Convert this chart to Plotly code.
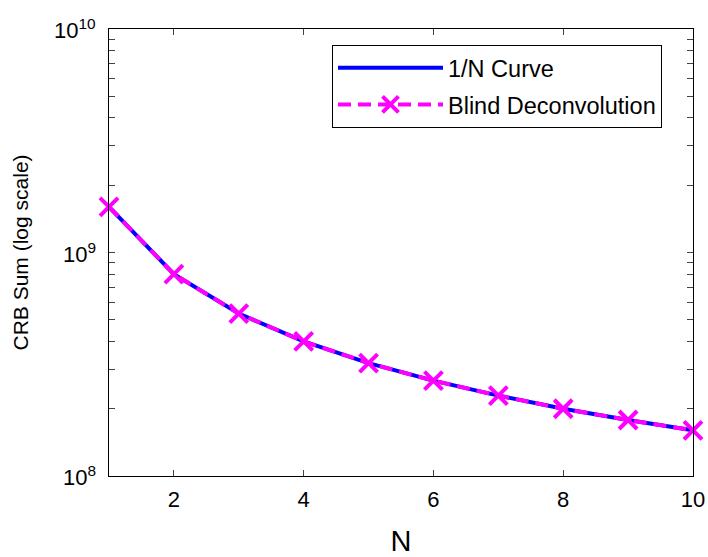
import math
import plotly.graph_objects as go

N = [1, 2, 3, 4, 5, 6, 7, 8, 9, 10]
crb_1overN = [1.6e9, 8.0e8, 5.33e8, 4.0e8, 3.2e8, 2.67e8, 2.29e8, 2.0e8, 1.78e8, 1.6e8]
crb_blind = [1.6e9, 8.0e8, 5.33e8, 4.0e8, 3.2e8, 2.67e8, 2.29e8, 2.0e8, 1.78e8, 1.6e8]

x_ticks = [2, 4, 6, 8, 10]
y_major = [1e8, 1e9, 1e10]
y_major_text = ["10<sup>8</sup>", "10<sup>9</sup>", "10<sup>10</sup>"]
y_minor = [m * 10 ** e for e in (8, 9) for m in range(2, 10)]

FONT = "Arial, Liberation Sans, sans-serif"
PLOT_W = 708 - 109 - 15

fig = go.Figure()
fig.add_trace(go.Scatter(
    x=N, y=crb_1overN, mode="lines", name="1/N Curve", cliponaxis=False,
    line=dict(color="#0000ff", width=4), legendgroup="a"))
fig.add_trace(go.Scatter(
    x=N, y=crb_blind, mode="lines+markers", name="Blind Deconvolution",
    cliponaxis=False,
    line=dict(color="#ff00ff", width=4, dash="13px,7px"),
    marker=dict(symbol="x-thin", size=18, line=dict(color="#ff00ff", width=4)),
    legendgroup="b"))

annotations = []
for v, t in zip(y_major, y_major_text):
    annotations.append(dict(
        x=-11 / PLOT_W, xref="paper", y=math.log10(v), yref="y",
        text=t, showarrow=False, xanchor="right", yanchor="middle",
        font=dict(size=22, family=FONT, color="black")))
annotations.append(dict(
    x=-89 / PLOT_W, xref="paper", y=0.5, yref="paper",
    text="CRB Sum (log scale)", textangle=-90, showarrow=False,
    xanchor="center", yanchor="middle",
    font=dict(size=21, family=FONT, color="black")))

fig.update_layout(
    width=708, height=557,
    margin=dict(l=109, r=15, t=29, b=81),
    paper_bgcolor="white", plot_bgcolor="white",
    font=dict(family=FONT, color="black", size=21),
    showlegend=True,
    legend=dict(
        x=(332 - 109) / PLOT_W, y=0.964, xanchor="left", yanchor="top",
        bordercolor="black", borderwidth=1, bgcolor="white",
        font=dict(size=23.5, family=FONT), itemwidth=105,
        traceorder="grouped", tracegroupgap=3,
    ),
    xaxis=dict(
        range=[1, 10], tickvals=x_ticks, ticks="inside", ticklen=6,
        showline=True, linecolor="black", linewidth=1, mirror="ticks",
        showgrid=False, zeroline=False, tickfont=dict(size=22),
        ticklabelstandoff=4, automargin=False,
        title=dict(text="N", font=dict(size=29), standoff=20),
    ),
    yaxis=dict(
        type="log", range=[8, 10], tickvals=y_major + y_minor,
        showticklabels=False, automargin=False,
        ticks="inside", ticklen=6,
        showline=True, linecolor="black", linewidth=1, mirror="ticks",
        showgrid=False, zeroline=False,
    ),
    annotations=annotations,
)

fig.write_html("out.html")
